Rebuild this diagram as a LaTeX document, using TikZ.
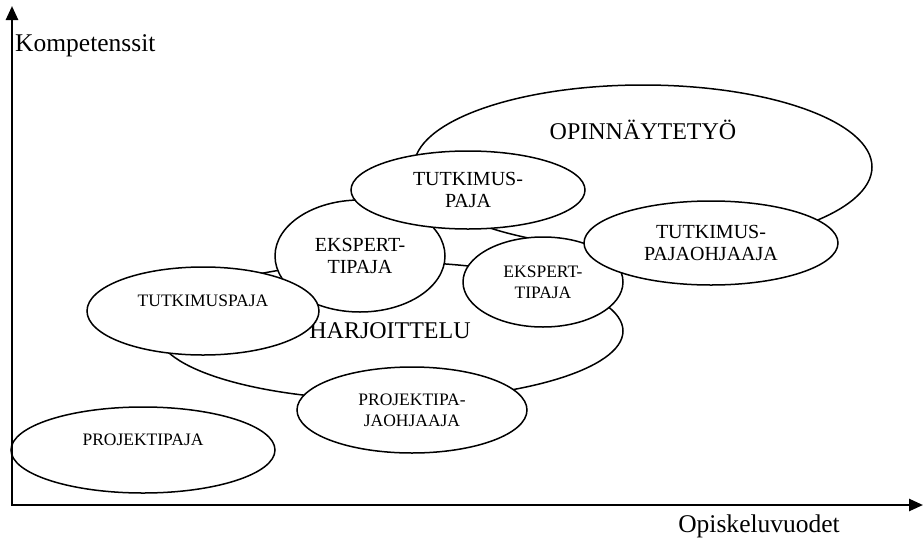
\documentclass[tikz,border=0pt]{standalone}
\usepackage{fontspec}
\setmainfont{Liberation Serif}
\usetikzlibrary{shapes.geometric, arrows.meta}

\begin{document}
\begin{tikzpicture}[
    x = 1pt, y = -1pt,
    kupla/.style = {
        draw, ellipse, fill=white, line width=1.5pt,
        inner sep=0pt, align=center
    },
    pieni/.style = {font=\fontsize{17.5}{21}\selectfont},
    keski/.style = {font=\fontsize{20}{22}\selectfont},
    iso/.style = {font=\fontsize{24}{28}\selectfont},
    akselinimi/.style = {font=\fontsize{25.5}{30}\selectfont, inner sep=1pt},
    akseli/.style = {line width=2.5pt,
        {Triangle[length=14pt, width=12pt]}-{Triangle[length=14pt, width=12pt]}}
  ]
    \useasboundingbox (0,0) rectangle (923,541);

    % kuplat takaa eteen
    \node[kupla, iso, minimum width=466pt, minimum height=138pt] (harj) at (390,331) {HARJOITTELU};
    \node[kupla, minimum width=458pt, minimum height=164pt] (opinn) at (643,167) {};
    \node[iso] (opinnteksti) at (643,130) {OPINNÄYTETYÖ};
    \node[kupla, keski, minimum width=170pt, minimum height=112pt] (eksp1) at (360,256) {EKSPERT-\\TIPAJA};
    \node[kupla, pieni, minimum width=232pt, minimum height=88pt] (tutk1) at (203,311) {TUTKIMUSPAJA\\~};
    \node[kupla, keski, minimum width=234pt, minimum height=78pt] (tutk2) at (468,190) {TUTKIMUS-\\PAJA};
    \node[kupla, pieni, minimum width=160pt, minimum height=90pt] (eksp2) at (543,282) {EKSPERT-\\TIPAJA};
    \node[kupla, keski, minimum width=254pt, minimum height=84pt] (ohj1) at (711,243) {TUTKIMUS-\\PAJAOHJAAJA};
    \node[kupla, pieni, minimum width=230pt, minimum height=86pt] (ohj2) at (412,410) {PROJEKTIPA-\\JAOHJAAJA};
    \node[kupla, pieni, minimum width=264pt, minimum height=86pt] (proj) at (143,450) {PROJEKTIPAJA\\~};

    % akselit
    \coordinate (origo) at (12,505);
    \coordinate (ykarki) at (12,6);
    \coordinate (xkarki) at (923,505);
    \draw[akseli] (ykarki) -- (origo) -- (xkarki);
    \node[akselinimi, anchor=west] (kompetenssit) at (14,46) {Kompetenssit};
    \node[akselinimi, anchor=east] (vuodet) at (841,526) {Opiskeluvuodet};
\end{tikzpicture}
\end{document}
